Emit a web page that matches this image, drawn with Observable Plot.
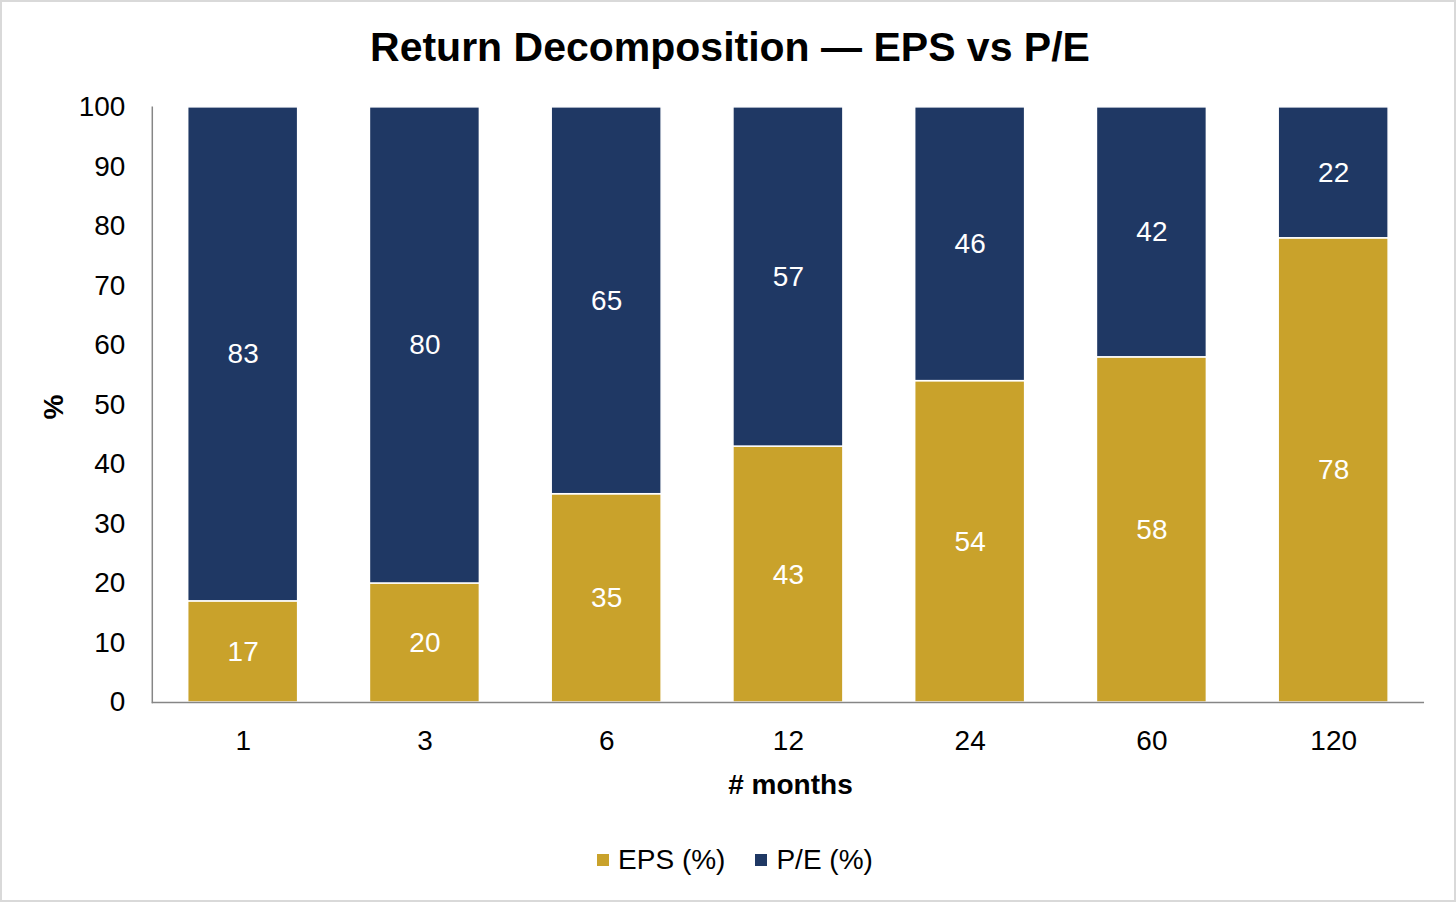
<!DOCTYPE html>
<html>
<head>
<meta charset="utf-8">
<script src="https://cdn.jsdelivr.net/npm/d3@7"></script>
<script src="https://cdn.jsdelivr.net/npm/@observablehq/plot@0.6"></script>
<style>
  html, body { margin: 0; padding: 0; background: #fff; }
  #wrap { position: relative; width: 1456px; height: 902px; box-sizing: border-box; border: 2px solid #d9d9d9; overflow: hidden; font-family: "Liberation Sans", Arial, sans-serif; }
  #chart { position: absolute; left: -2px; top: -2px; }
  .title { position: absolute; left: 0; width: 1456px; top: 22px; text-align: center; font-weight: bold; font-size: 41px; color: #000; }
  .ylab { position: absolute; left: 52px; top: 405px; transform: translate(-50%, -50%) rotate(-90deg); font-weight: bold; font-size: 28px; }
  .xlab { position: absolute; left: 152px; width: 1273px; top: 767px; text-align: center; font-weight: bold; font-size: 28px; }
  .legend { position: absolute; left: 0; width: 1466px; top: 842px; display: flex; justify-content: center; align-items: center; font-size: 28px; gap: 0; }
  .legend .item { display: flex; align-items: center; margin: 0 15px; }
  .legend .sw { width: 12px; height: 12px; margin-right: 9px; }
</style>
</head>
<body>
<div id="wrap">
  <div id="chart"></div>
  <div class="title">Return Decomposition — EPS vs P/E</div>
  <div class="ylab">%</div>
  <div class="xlab"># months</div>
  <div class="legend" id="legend"></div>
</div>
<script>
const months = ["1", "3", "6", "12", "24", "60", "120"];
const seriesNames = ["EPS (%)", "P/E (%)"];
const epsValues = [17, 20, 35, 43, 54, 58, 78];
const peValues = [83, 80, 65, 57, 46, 42, 22];
const yTicks = [0, 10, 20, 30, 40, 50, 60, 70, 80, 90, 100];
const colors = ["#C9A22B", "#1F3864"];

const rows = months.flatMap((m, i) => [
  {month: m, series: seriesNames[0], value: epsValues[i]},
  {month: m, series: seriesNames[1], value: peValues[i]}
]);

const chart = Plot.plot({
  width: 1456,
  height: 902,
  marginTop: 107,
  marginBottom: 199,
  marginLeft: 152,
  marginRight: 30,
  style: {fontFamily: "'Liberation Sans', Arial, sans-serif", fontSize: "28px", color: "#000", background: "transparent"},
  x: {domain: months, paddingInner: 0.395, paddingOuter: 0.1975, round: false, label: null},
  y: {domain: [0, 100], label: null},
  color: {domain: seriesNames, range: colors},
  marks: [
    Plot.barY(rows, Plot.stackY({x: "month", y: "value", fill: "series", stroke: "white", strokeWidth: 1.5})),
    Plot.text(rows, Plot.stackY({x: "month", y: "value", text: d => String(d.value), fill: "white", fontSize: 28})),
    Plot.axisX({tickSize: 0, tickPadding: 28, label: null, fontSize: 28}),
    Plot.axisY({ticks: yTicks, tickSize: 0, tickPadding: 27, label: null, fontSize: 28}),
    Plot.ruleY([0], {stroke: "#868686", strokeWidth: 1.5}),
    Plot.frame({anchor: "left", stroke: "#868686", strokeWidth: 1.5})
  ]
});
document.getElementById("chart").appendChild(chart);

const legend = document.getElementById("legend");
seriesNames.forEach((s, i) => {
  const item = document.createElement("div");
  item.className = "item";
  const sw = document.createElement("div");
  sw.className = "sw";
  sw.style.background = colors[i];
  const t = document.createElement("span");
  t.textContent = s;
  item.appendChild(sw);
  item.appendChild(t);
  legend.appendChild(item);
});
</script>
</body>
</html>
